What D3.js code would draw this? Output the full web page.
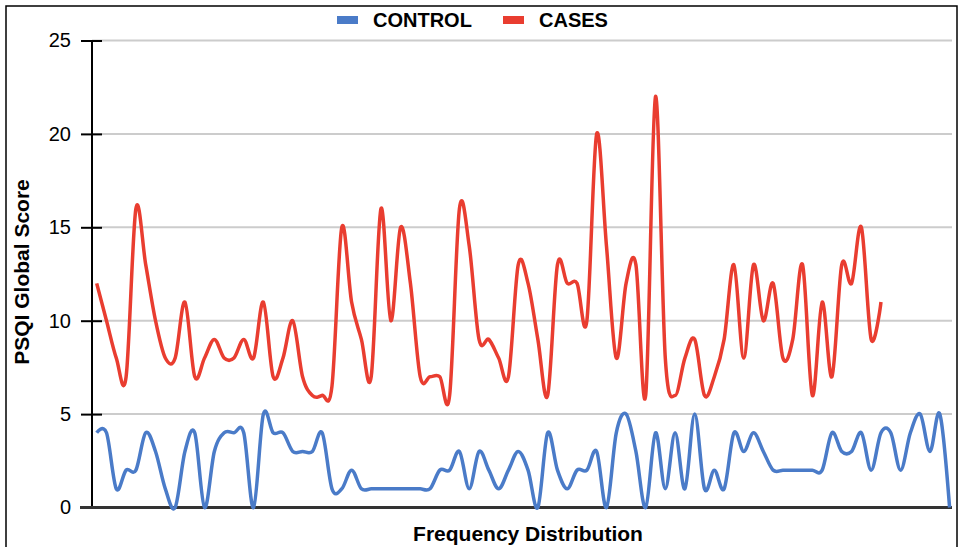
<!DOCTYPE html>
<html lang="en">
<head>
    <meta charset="UTF-8">
    <title>PSQI Global Score</title>
    <script src="https://d3js.org/d3.v7.min.js"></script>
    <style>
        body {
            margin: 0;
            padding: 0;
            background: #fff;
        }
        svg {
            font-family: "Liberation Sans", Arial, sans-serif;
        }
    </style>
</head>
<body>
    <svg width="960" height="547"></svg>

    <script>
        // values
        const control = [4, 4, 1, 2, 2, 4, 3, 1, 0, 3, 4, 0, 3, 4, 4, 4, 0, 5, 4, 4,
            3, 3, 3, 4, 1, 1, 2, 1, 1, 1, 1, 1, 1, 1, 1, 2, 2, 3, 1, 3,
            2, 1, 2, 3, 2, 0, 4, 2, 1, 2, 2, 3, 0, 4, 5, 3, 0, 4, 1, 4,
            1, 5, 1, 2, 1, 4, 3, 4, 3, 2, 2, 2, 2, 2, 2, 4, 3, 3, 4, 2,
            4, 4, 2, 4, 5, 3, 5, 0];
        const cases = [12, 10, 8, 7, 16, 13, 10, 8, 8, 11, 7, 8, 9, 8, 8, 9, 8, 11, 7, 8,
            10, 7, 6, 6, 6.5, 15, 11, 9, 7, 16, 10, 15, 12, 7, 7, 7, 6, 16, 14, 9,
            9, 8, 7, 13, 12, 9, 6, 13, 12, 12, 10, 20, 14, 8, 12, 13, 6, 22, 8, 6,
            8, 9, 6, 7, 9, 13, 8, 13, 10, 12, 8, 9, 13, 6, 11, 7, 13, 12, 15, 9, 11];
        const yTicks = [0, 5, 10, 15, 20, 25];
        const seriesNames = ["CONTROL", "CASES"];
        const seriesColors = ["#4a7bc8", "#e93d30"];

        const svg = d3.select("svg");

        // frame round the picture
        svg.append("rect")
            .attr("x", 6).attr("y", 6)
            .attr("width", 951).attr("height", 560)
            .attr("fill", "none")
            .attr("stroke", "#000")
            .attr("stroke-width", 1.5);

        const x = d3.scaleLinear()
            .domain([0, control.length - 1])
            .range([96.7, 949.6]);

        const y = d3.scaleLinear()
            .domain([0, 25])
            .range([507.5, 40.5]);

        const axisX = 92;

        // gridlines
        svg.append("g")
            .selectAll("line")
            .data(yTicks.filter(d => d > 0))
            .join("line")
            .attr("x1", axisX).attr("x2", 952)
            .attr("y1", d => y(d)).attr("y2", d => y(d))
            .attr("stroke", "#cccccc")
            .attr("stroke-width", 2);

        // y axis
        const yAxis = d3.axisLeft(y)
            .tickValues(yTicks)
            .tickSize(11)
            .tickPadding(10);

        const gy = svg.append("g")
            .attr("transform", `translate(${axisX},0)`)
            .call(yAxis);
        gy.select(".domain").remove();
        gy.selectAll(".tick line")
            .attr("x2", 10)
            .attr("x1", -11)
            .attr("stroke", "#000")
            .attr("stroke-width", 2);
        gy.selectAll(".tick text")
            .attr("x", -21)
            .attr("font-size", 20)
            .attr("fill", "#000");

        svg.append("line")
            .attr("x1", axisX).attr("x2", axisX)
            .attr("y1", y(25)).attr("y2", y(0))
            .attr("stroke", "#000")
            .attr("stroke-width", 2);

        // baseline
        svg.append("line")
            .attr("x1", 80).attr("x2", 952)
            .attr("y1", y(0)).attr("y2", y(0))
            .attr("stroke", "#333")
            .attr("stroke-width", 3);

        // series, smoothed like the spreadsheet's curve
        const line = d3.line()
            .x((d, i) => x(i))
            .y(d => y(d))
            .curve(d3.curveCatmullRom.alpha(0));

        [control, cases].forEach((values, k) => {
            svg.append("path")
                .datum(values)
                .attr("fill", "none")
                .attr("stroke", seriesColors[k])
                .attr("stroke-width", 3.5)
                .attr("stroke-linejoin", "round")
                .attr("d", line);
        });

        // legend
        const legendPos = [337, 503];
        seriesNames.forEach((name, k) => {
            svg.append("rect")
                .attr("x", legendPos[k]).attr("y", 16)
                .attr("width", 21).attr("height", 8)
                .attr("fill", seriesColors[k]);
            svg.append("text")
                .attr("x", legendPos[k] + 36).attr("y", 27)
                .attr("font-size", 20)
                .attr("font-weight", "bold")
                .text(name);
        });

        // axis titles
        svg.append("text")
            .attr("x", 528).attr("y", 541)
            .attr("text-anchor", "middle")
            .attr("font-size", 21)
            .attr("font-weight", "bold")
            .text("Frequency Distribution");

        svg.append("text")
            .attr("transform", "translate(29,272) rotate(-90)")
            .attr("text-anchor", "middle")
            .attr("font-size", 21)
            .attr("font-weight", "bold")
            .text("PSQI Global Score");
    </script>
</body>
</html>
